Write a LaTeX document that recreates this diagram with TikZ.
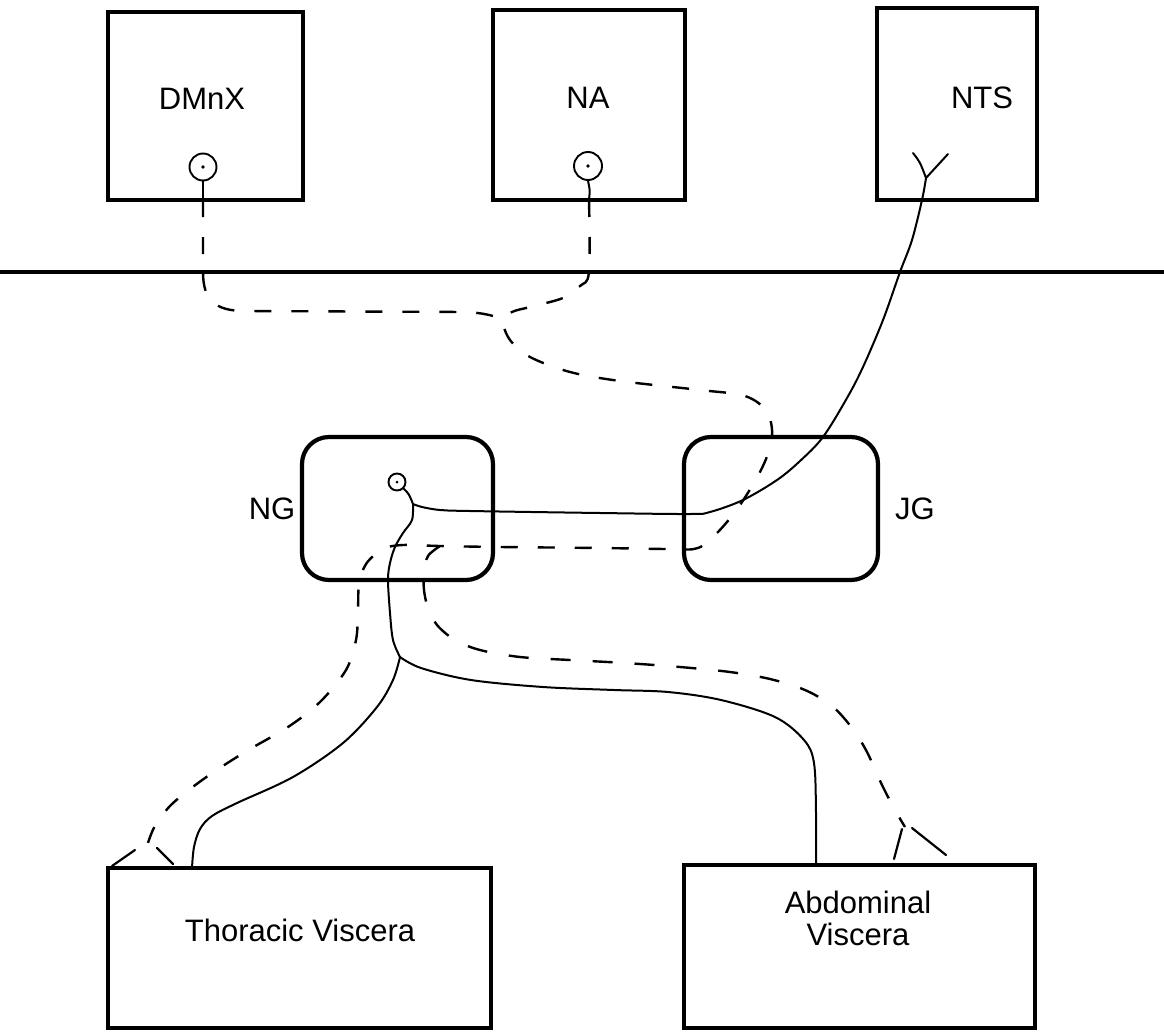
\documentclass[tikz,border=0pt]{standalone}
\usepackage{fontspec}
\setmainfont{Liberation Sans}
\begin{document}
\begin{tikzpicture}[x=1pt,y=-1pt,
  box/.style={draw, line width=4pt, inner sep=0pt},
  gbox/.style={draw, line width=4.2pt, rounded corners=27pt, inner sep=0pt},
  lbl/.style={font=\fontsize{31}{32}\selectfont, inner sep=0pt, align=center},
  soma/.style={draw, circle, line width=1.9pt, inner sep=0pt},
  fibre/.style={line width=2pt, line cap=round, line join=round},
  efferent/.style={line width=2.4pt, dash pattern=on 17pt off 20pt},
  tip/.style={line width=2.2pt, line cap=round}]
\useasboundingbox (0,0) rectangle (1164,1033);

% --- boxes ---
\node[box, minimum width=195pt, minimum height=188pt] (dmnx) at (205.5,106) {};
\node[box, minimum width=192pt, minimum height=190pt] (na) at (589,105) {};
\node[box, minimum width=160pt, minimum height=192pt] (nts) at (957,104) {};
\node[lbl] (dmnxt) at (202,99) {DMnX};
\node[lbl] (nat) at (588,98) {NA};
\node[lbl] (ntst) at (982,98) {NTS};

\coordinate (dl) at (0,272);
\coordinate (dr) at (1164,272);
\draw[line width=3.2pt] (dl) -- (dr);

\node[gbox, minimum width=191pt, minimum height=143pt] (ng) at (397.5,508.5) {};
\node[gbox, minimum width=194pt, minimum height=143pt] (jg) at (781,508.5) {};
\node[lbl] (ngt) at (272,509) {NG};
\node[lbl] (jgt) at (915,509) {JG};

\node[box, minimum width=383pt, minimum height=160pt] (thor) at (299.5,948) {};
\node[box, minimum width=351pt, minimum height=163pt] (abd) at (859.5,946.5) {};
\node[lbl] (thort) at (300,930) {Thoracic Viscera};
\node[lbl] (abdt) at (858,918) {Abdominal\\Viscera};

% --- cell bodies ---
\node[soma, minimum size=27pt] (sdm) at (203,167) {};
\fill (sdm.center) circle (1.8pt);
\node[soma, minimum size=28pt] (sna) at (588,166) {};
\fill (sna.center) circle (1.8pt);
\node[soma, minimum size=17pt] (sng) at (397,482) {};
\fill (sng.center) circle (1.5pt);

% --- junction coordinates ---
\coordinate (dmout) at (203,200);
\coordinate (naout) at (589,200);
\coordinate (j1) at (503,321);
\coordinate (j2) at (440,546);
\coordinate (f1) at (148,843);
\coordinate (f2) at (905,827);
\coordinate (y1) at (926,178);
\coordinate (s1) at (413,504);
\coordinate (s2) at (400,657);

% --- efferent (dashed) fibres ---
\draw[fibre] (sdm.south) -- (dmout);
\draw[fibre] (sna.south) .. controls (590,190) .. (naout);
\draw[efferent] (dmout) -- (203,272) .. controls (203,300) and (215,311) .. (245,311)
  -- (465,312) .. controls (485,313) and (497,316) .. (j1);
\draw[efferent] plot[smooth, tension=0.55] coordinates {(naout) (589,272) (580,286) (563,298)
  (530,307) (512,312) (j1) (510,340) (530,357) (570,372) (620,381) (700,390) (745,396)
  (767,412) (772,438) (762,468) (740,505) (718,532) (698,548) (670,549) (600,548) (500,547)
  (j2) (403,545) (383,549) (366,564) (359,585) (358,612) (356,640) (346,670) (320,702)
  (288,727) (245,752) (205,778) (172,804) (155,826) (f1)};
\draw[efferent, dash pattern=on 20pt off 22pt] plot[smooth, tension=0.55] coordinates {(j2) (428,556) (424,572)
  (424,590) (428,608) (437,625) (455,640) (480,650) (520,657) (570,660) (625,663) (680,667)
  (730,672) (770,679) (805,690) (832,706) (852,728) (867,752) (882,785) (895,810) (f2)};
\draw[tip] (135,850) -- (112,866);
\draw[tip] (157,848) -- (173,864);
\draw[tip] (902,829) -- (894,859);
\draw[tip] (912,828) -- (946,855);

% --- afferent (solid) fibres ---
\draw[fibre] (913,153) .. controls (920,162) .. (y1) -- (948,154);
\draw[fibre] plot[smooth, tension=0.55] coordinates {(y1) (922,200) (912,240) (900,272)
  (883,320) (863,367) (847,398) (823,437) (800,461) (777,480) (743,500) (710,512) (690,514)
  (600,513) (470,511) (440,510) (422,507) (s1)};
\draw[fibre] (sng.south east) .. controls (409,494) .. (s1);
\draw[fibre] plot[smooth, tension=0.55] coordinates {(s1) (412,520) (403,533) (395,547)
  (390,563) (388,580) (390,613) (393,640) (s2)};
\draw[fibre] plot[smooth, tension=0.55] coordinates {(s2) (393,680) (377,707) (343,743)
  (293,777) (237,803) (212,816) (200,829) (194,847) (192,868)};
\draw[fibre] plot[smooth, tension=0.55] coordinates {(s2) (421,668) (471,680) (543,687)
  (614,690) (668,692) (721,700) (775,717) (804,740) (814,763) (816,813) (816,865)};
\end{tikzpicture}
\end{document}
